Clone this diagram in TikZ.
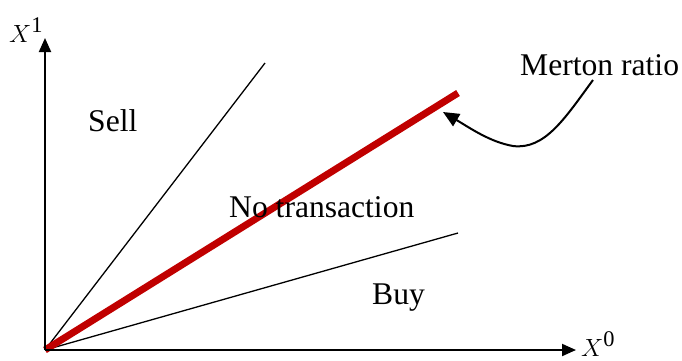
\documentclass[tikz,border=0pt]{standalone}
\usepackage{fontspec}
\setmainfont{Liberation Serif}
\usetikzlibrary{arrows.meta}
\definecolor{mertonred}{HTML}{C00000}
\begin{document}
\begin{tikzpicture}[x=1pt,y=-1pt,
  axis/.style={line width=2pt,-{Triangle[length=14pt,width=12pt]}},
  bound/.style={line width=1.3pt},
  lbl/.style={font=\fontsize{31.6}{36}\selectfont,inner sep=0pt,anchor=base west},
  mlbl/.style={font=\fontsize{32}{36}\selectfont,inner sep=0pt,anchor=base west}]
\useasboundingbox (0,0) rectangle (682,360);
\coordinate (O) at (45,350);
\coordinate (ytop) at (45,38);
\coordinate (xend) at (576,350);
\coordinate (sellend) at (265,63);
\coordinate (buyend) at (458,233);
\coordinate (redend) at (458,93);
\draw[bound] (O) -- (sellend);
\draw[bound] (O) -- (buyend);
\draw[line width=7pt,mertonred] (O) -- (redend);
\draw[axis] (O) -- (ytop);
\draw[axis] (O) -- (xend);
\node[mlbl] (xone) at (9,42) {$X^{\mathrm{1}}$};
\node[mlbl] (xzero) at (581,356) {$X^{\mathrm{0}}$};
\node[lbl] (sell) at (88,131) {Sell};
\node[lbl] (nt) at (229,217) {No transaction};
\node[lbl] (buy) at (372,304) {Buy};
\node[lbl] (merton) at (520,75) {Merton ratio};
\coordinate (cstart) at (593,80);
\coordinate (cmid) at (513,146);
\coordinate (ctip) at (443,112);
\draw[line width=2pt,-{Triangle[length=16pt,width=14pt]}] (cstart) .. controls (565,118) and (545,150) .. (cmid) .. controls (490,142) and (470,128) .. (ctip);
\end{tikzpicture}
\end{document}
